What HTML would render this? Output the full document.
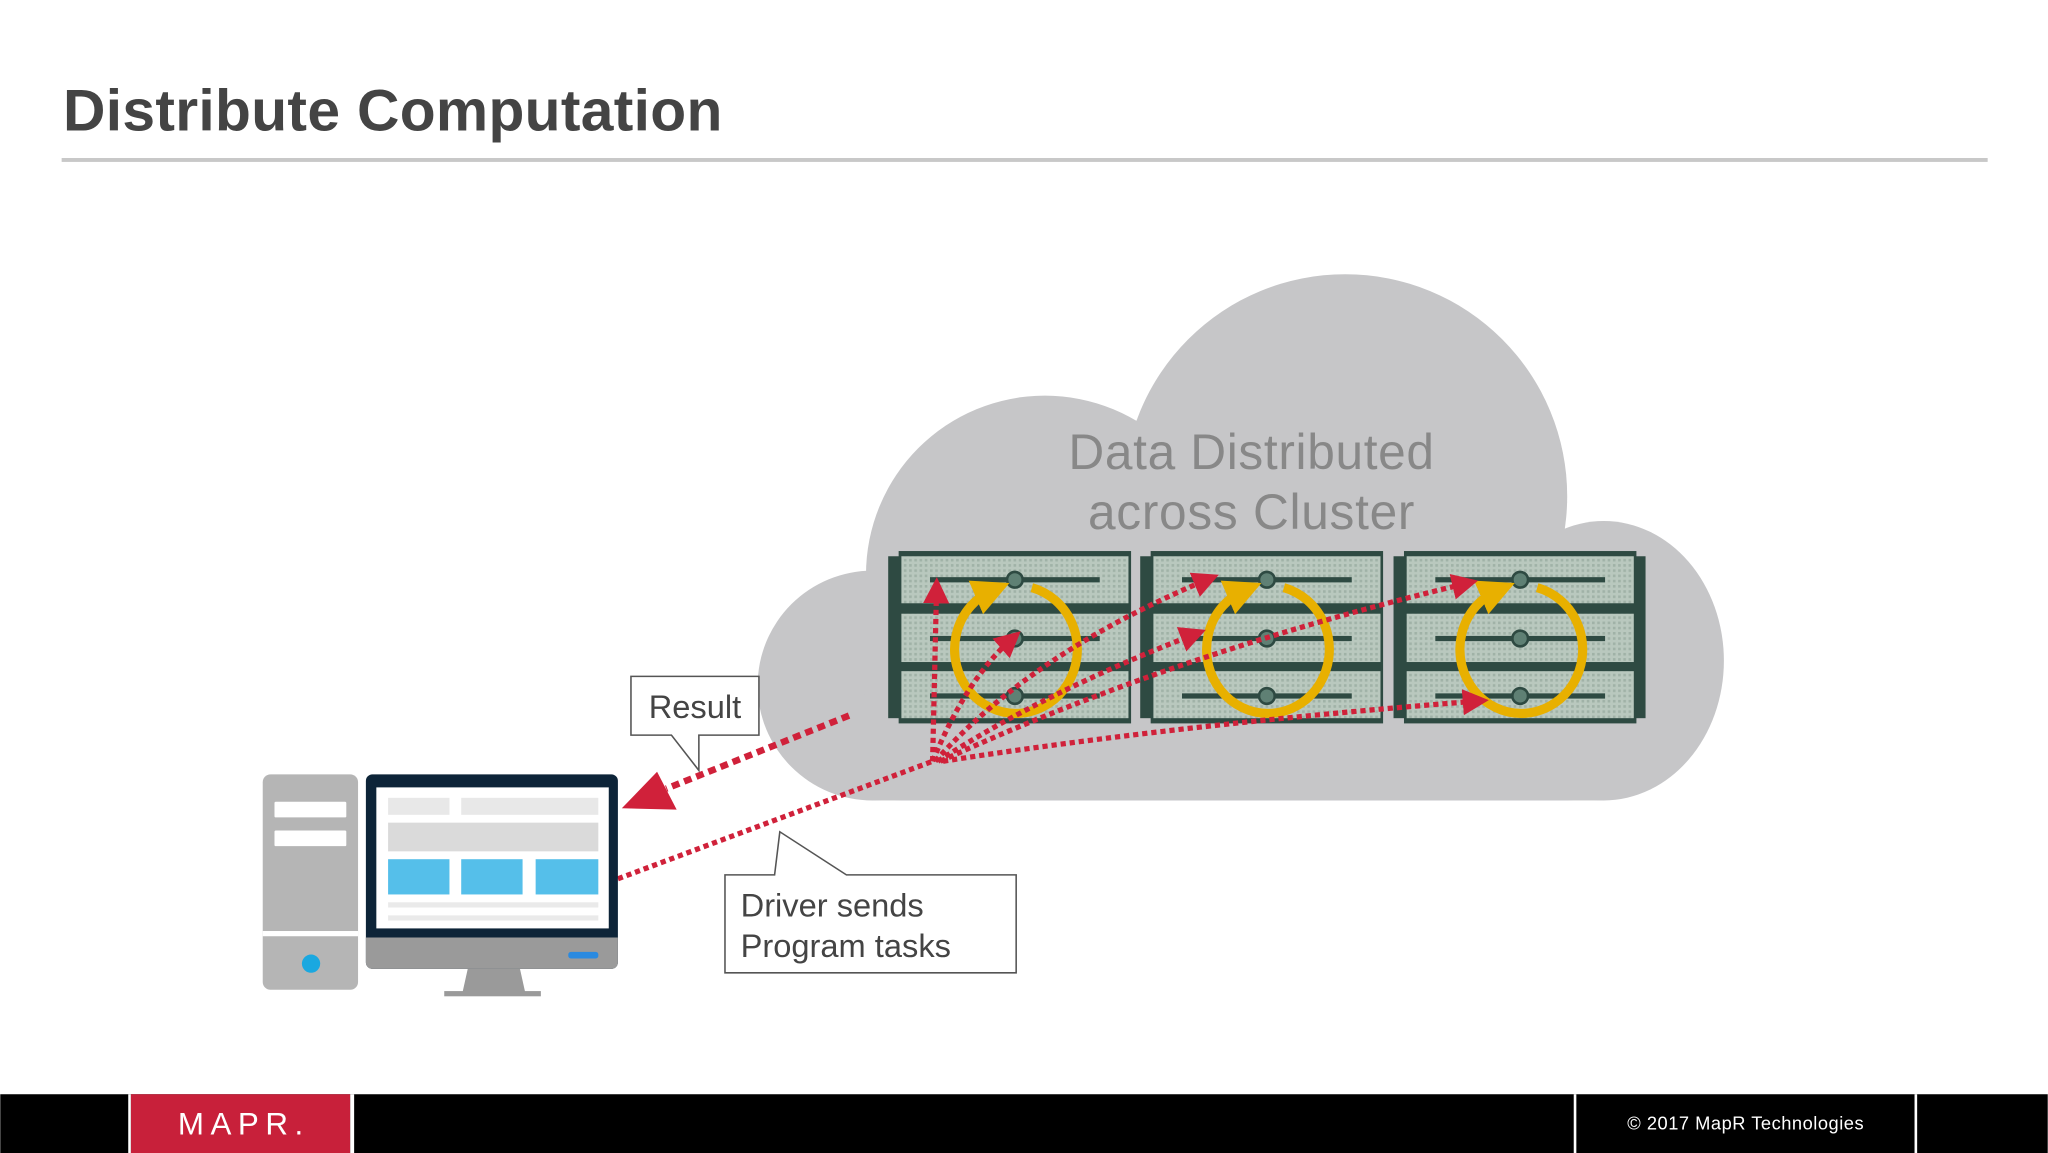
<!DOCTYPE html>
<html><head><meta charset="utf-8"><style>html,body{margin:0;padding:0;background:#fff}svg{display:block}</style></head><body>
<svg width="2048" height="1153" viewBox="0 0 1568 883" xmlns="http://www.w3.org/2000/svg" font-family="Liberation Sans, sans-serif">
<defs>
<pattern id="dots" width="4" height="4" patternUnits="userSpaceOnUse"><rect width="4" height="4" fill="#b9c8be"/><rect width="2" height="2" fill="#a0b2a7"/></pattern>
<marker id="ar" viewBox="0 0 10 10" refX="5" refY="5" markerWidth="5" markerHeight="5" orient="auto"><path d="M0,0L10,5L0,10z" fill="#d0213a"/></marker>
<marker id="ay" viewBox="0 0 10 10" refX="5" refY="5" markerWidth="4" markerHeight="4" orient="auto"><path d="M0,0L10,5L0,10z" fill="#e8b000"/></marker>
</defs>
<rect width="1568" height="883" fill="#fff"/>
<text x="48" y="100" font-size="45" font-weight="bold" fill="#444" textLength="505">Distribute Computation</text>
<rect x="47" y="121" width="1475" height="3" fill="#c8c8c8"/>
<g fill="#c6c6c8">
<circle cx="1030" cy="380" r="170"/>
<circle cx="800" cy="440" r="137"/>
<circle cx="668" cy="525" r="88"/>
<ellipse cx="1228" cy="506" rx="92" ry="107"/>
<rect x="668" y="420" width="560" height="193"/>
<rect x="650" y="520" width="590" height="93" rx="40"/>
</g>
<text x="958" y="359" font-size="38" fill="#888" text-anchor="middle" textLength="280">Data Distributed</text>
<text x="958" y="405" font-size="38" fill="#888" text-anchor="middle" textLength="250">across Cluster</text>
<g>
<g id="col">
<rect x="688" y="422" width="178" height="132" fill="#2e4a42"/>
<rect x="690" y="426" width="174" height="36" fill="url(#dots)"/>
<rect x="690" y="470" width="174" height="37" fill="url(#dots)"/>
<rect x="690" y="514" width="174" height="36" fill="url(#dots)"/>
<rect x="680" y="426" width="10" height="124" fill="#2e4a42"/>
<g fill="#2e4a42">
<rect x="712" y="442" width="130" height="4"/><rect x="712" y="487" width="130" height="4"/><rect x="712" y="531" width="130" height="4"/>
</g>
<g fill="#5f8074" stroke="#2e4a42" stroke-width="2">
<circle cx="777" cy="444" r="6"/><circle cx="777" cy="489" r="6"/><circle cx="777" cy="533" r="6"/>
</g>
</g>
<use href="#col" x="193"/>
<use href="#col" x="387"/>
<rect x="1252" y="426" width="8" height="124" fill="#2e4a42"/>
</g>
<g fill="none" stroke="#e8b000" stroke-width="7" marker-end="url(#ay)">
<path d="M790,450 A47,49 0 1 1 760,452"/>
<path d="M983,450 A47,49 0 1 1 953,452"/>
<path d="M1177,450 A47,49 0 1 1 1147,452"/>
</g>
<g fill="none" stroke="#d0213a" stroke-width="4" stroke-dasharray="4 3" marker-end="url(#ar)">
<path d="M714,583 L717,452"/>
<path d="M714,583 Q740,520 774,490"/>
<path d="M716,583 Q790,500 924,444"/>
<path d="M718,583 Q800,530 914,486"/>
<path d="M720,583 Q900,500 1122,447"/>
<path d="M722,583 Q900,555 1130,537"/>
</g>
<path d="M473,673 L714,583" stroke="#d0213a" stroke-width="4" stroke-dasharray="4 3" fill="none"/>
<path d="M650,548 L510,604" stroke="#d0213a" stroke-width="5" stroke-dasharray="6 4" fill="none"/>
<path d="M476,619 L503,591 L518,620z" fill="#d0213a"/>
<path d="M483,518 H581 V563 H535 L535,590 L514,563 H483z" fill="#fff" stroke="#555" stroke-width="1.2"/>
<text x="532" y="550" font-size="25" fill="#444" text-anchor="middle">Result</text>
<path d="M555,670 H593 L597,637 L648,670 H778 V745 H555z" fill="#fff" stroke="#555" stroke-width="1.2"/>
<text x="567" y="702" font-size="25" fill="#444">Driver sends</text>
<text x="567" y="733" font-size="25" fill="#444">Program tasks</text>
<rect x="201" y="593" width="73" height="165" rx="6" fill="#b5b5b5"/>
<rect x="201" y="713" width="73" height="4" fill="#fff"/>
<rect x="210" y="614" width="55" height="12" rx="1" fill="#fff"/>
<rect x="210" y="636" width="55" height="12" rx="1" fill="#fff"/>
<circle cx="238" cy="738" r="7" fill="#1aa8e0"/>
<path d="M358,742 H398 L402,760 H354z" fill="#9a9a9a"/>
<rect x="340" y="759" width="74" height="4" fill="#9a9a9a"/>
<rect x="280" y="593" width="193" height="149" rx="5" fill="#0d2438"/>
<path d="M280,718 H473 V737 a5,5 0 0 1 -5,5 H285 a5,5 0 0 1 -5,-5z" fill="#9a9a9a"/>
<rect x="435" y="729" width="23" height="5" rx="2" fill="#2a8ae0"/>
<rect x="288" y="603" width="178" height="108" fill="#fff"/>
<rect x="297" y="611" width="47" height="13" fill="#e8e8e8"/>
<rect x="353" y="611" width="105" height="13" fill="#e8e8e8"/>
<rect x="297" y="630" width="161" height="22" fill="#dadada"/>
<g fill="#55bfea"><rect x="297" y="658" width="47" height="27"/><rect x="353" y="658" width="47" height="27"/><rect x="410" y="658" width="48" height="27"/></g>
<rect x="297" y="691" width="161" height="4" fill="#eaeaea"/>
<rect x="297" y="701" width="161" height="4" fill="#eaeaea"/>
<rect x="0" y="838" width="1568" height="45" fill="#000"/>
<rect x="100" y="838" width="168" height="45" fill="#c8203a"/>
<g fill="#fff"><rect x="98" y="838" width="2" height="45"/><rect x="268" y="838" width="3" height="45"/><rect x="1205" y="838" width="2" height="45"/><rect x="1466" y="838" width="2" height="45"/></g>
<text x="184" y="869" font-size="24" fill="#fff" text-anchor="middle" textLength="96">MAPR.</text>
<text x="1246" y="865" font-size="14" fill="#fff" textLength="181">© 2017 MapR Technologies</text>
</svg>
</body></html>
